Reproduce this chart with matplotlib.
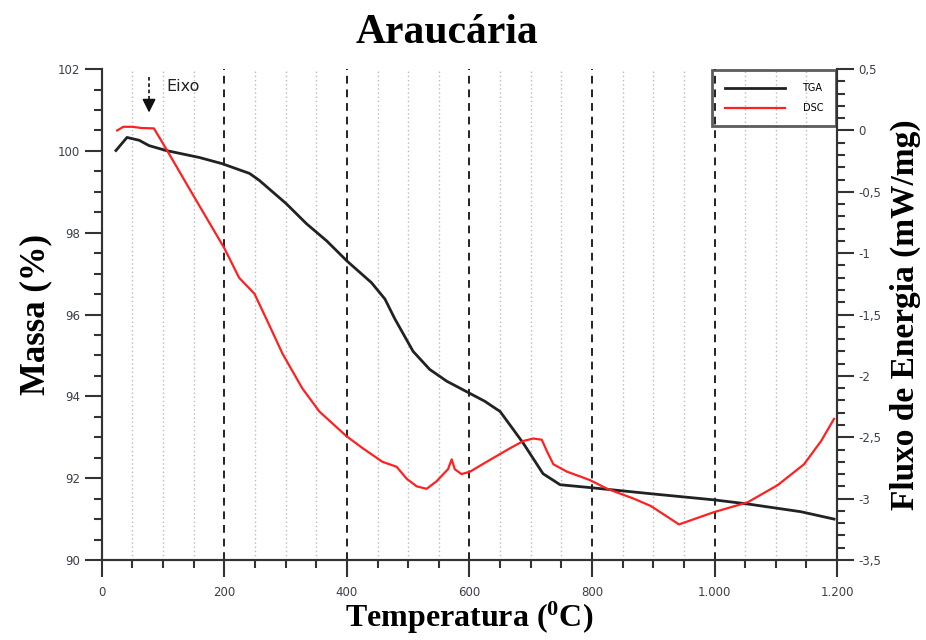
import numpy as np
import matplotlib
matplotlib.use('Agg')
from matplotlib import pyplot as plt
from matplotlib.ticker import MultipleLocator, FuncFormatter

# TGA curve (massa %)
tga_temp = [23, 41, 61, 77, 105, 159, 196, 241, 257, 301, 334, 367, 400, 440, 462, 478,
            508, 535, 563, 601, 625, 650, 671, 688, 704, 720, 748, 797, 896, 999, 1054, 1141, 1195]
tga_mass = [100.01, 100.33, 100.26, 100.13, 100.01, 99.84, 99.69, 99.45, 99.28, 98.71, 98.22,
            97.80, 97.31, 96.78, 96.38, 95.90, 95.10, 94.66, 94.37, 94.07, 93.88, 93.63, 93.20,
            92.85, 92.48, 92.11, 91.84, 91.77, 91.62, 91.47, 91.37, 91.18, 91.00]

# DSC curve (fluxo de energia mW/mg)
dsc_temp = [25, 35, 50, 65, 85, 105, 147, 200, 224, 249, 268, 295, 327, 355, 399, 426, 458,
            481, 498, 514, 530, 546, 565, 571, 576, 587, 601, 628, 666, 688, 704, 718, 727,
            737, 759, 781, 797, 825, 868, 896, 942, 999, 1054, 1103, 1146, 1174, 1195]
dsc_flux = [0.0, 0.03, 0.03, 0.02, 0.017, -0.15, -0.51, -0.96, -1.20, -1.33, -1.53, -1.82,
            -2.10, -2.29, -2.49, -2.59, -2.70, -2.74, -2.84, -2.90, -2.92, -2.86, -2.76, -2.68,
            -2.76, -2.80, -2.78, -2.70, -2.59, -2.53, -2.51, -2.52, -2.62, -2.72, -2.78, -2.82,
            -2.85, -2.92, -3.00, -3.06, -3.21, -3.11, -3.03, -2.89, -2.72, -2.53, -2.35]

# annotation "Eixo"
arrow_x = 77
arrow_top, arrow_tip = 101.8, 100.87

serif = 'Liberation Serif'
plt.rcParams['mathtext.fontset'] = 'custom'
plt.rcParams['mathtext.rm'] = 'Liberation Serif:bold'
plt.rcParams['mathtext.it'] = 'Liberation Serif:bold'
plt.rcParams['mathtext.bf'] = 'Liberation Serif:bold'

tick_col = '#333333'

fig = plt.figure(figsize=(9.26, 6.4), dpi=100)
ax = fig.add_axes([0.110, 0.125, 0.794, 0.767])
ax2 = ax.twinx()

# grid: dotted minor, dashed major
for xv in np.arange(50, 1200, 50):
    if xv % 200 == 0:
        ax.axvline(xv, color='#222222', ls=(0, (4, 3)), lw=1.4, zorder=1)
    else:
        ax.axvline(xv, color='#bbbbbb', ls=(0, (1, 2)), lw=1.0, zorder=1)

l1, = ax.plot(tga_temp, tga_mass, color='#222222', lw=2.0, zorder=3, label='TGA')
l2, = ax2.plot(dsc_temp, dsc_flux, color='#ff2020', lw=1.6, zorder=3, label='DSC')

ax.set_xlim(0, 1200)
ax.set_ylim(90, 102)
ax2.set_ylim(-3.5, 0.5)

ax.xaxis.set_major_locator(MultipleLocator(200))
ax.xaxis.set_minor_locator(MultipleLocator(50))
ax.yaxis.set_major_locator(MultipleLocator(2))
ax.yaxis.set_minor_locator(MultipleLocator(0.5))
ax2.yaxis.set_major_locator(MultipleLocator(0.5))
ax2.yaxis.set_minor_locator(MultipleLocator(0.1))

ax.xaxis.set_major_formatter(FuncFormatter(lambda v, p: f'{int(v):,}'.replace(',', '.')))
ax2.yaxis.set_major_formatter(FuncFormatter(lambda v, p: f'{v:g}'.replace('.', ',')))

for a in (ax, ax2):
    a.tick_params(which='major', direction='out', length=12, width=1.5, colors=tick_col,
                  labelsize=8.5, labelcolor='#3a3f4a')
    a.tick_params(which='minor', direction='out', length=6, width=1.5, colors=tick_col)
    for s in a.spines.values():
        s.set_color(tick_col)
        s.set_linewidth(1.5)
    a.spines['top'].set_visible(False)
ax.tick_params(axis='x', which='major', pad=7)

ax.set_xlabel('Temperatura ($^{0}$C)', family=serif, weight='bold', fontsize=23, labelpad=0)
ax.set_ylabel('Massa (%)', family=serif, weight='bold', fontsize=25, labelpad=4)
ax2.set_ylabel('Fluxo de Energia (mW/mg)', family=serif, weight='bold', fontsize=24, labelpad=6)
fig.text(0.483, 0.948, 'Araucária', family=serif, weight='bold', fontsize=30, ha='center', va='center')

# arrow
ax.plot([arrow_x, arrow_x], [arrow_top, arrow_tip + 0.25], color='#222222', ls=(0, (2, 1.5)), lw=1.3, zorder=4)
ax.annotate('', xy=(arrow_x, arrow_tip), xytext=(arrow_x, arrow_tip + 0.3),
            arrowprops=dict(arrowstyle='-|>', color='#111111', lw=1.2, mutation_scale=20), zorder=4)
ax.text(105, 101.57, 'Eixo', fontsize=11.5, color='#222222', va='center', ha='left')

leg = ax.legend([l1, l2], ['TGA', 'DSC'], loc='upper right', fontsize=7, frameon=True,
                fancybox=False, facecolor='none', edgecolor='#333333', handlelength=6.2,
                handletextpad=1.8, borderpad=1.35, labelspacing=1.0, borderaxespad=0.1,
                bbox_to_anchor=(1.0, 1.0))
leg.get_frame().set_linewidth(2)

plt.savefig('out.png', dpi=100)
plt.close()
